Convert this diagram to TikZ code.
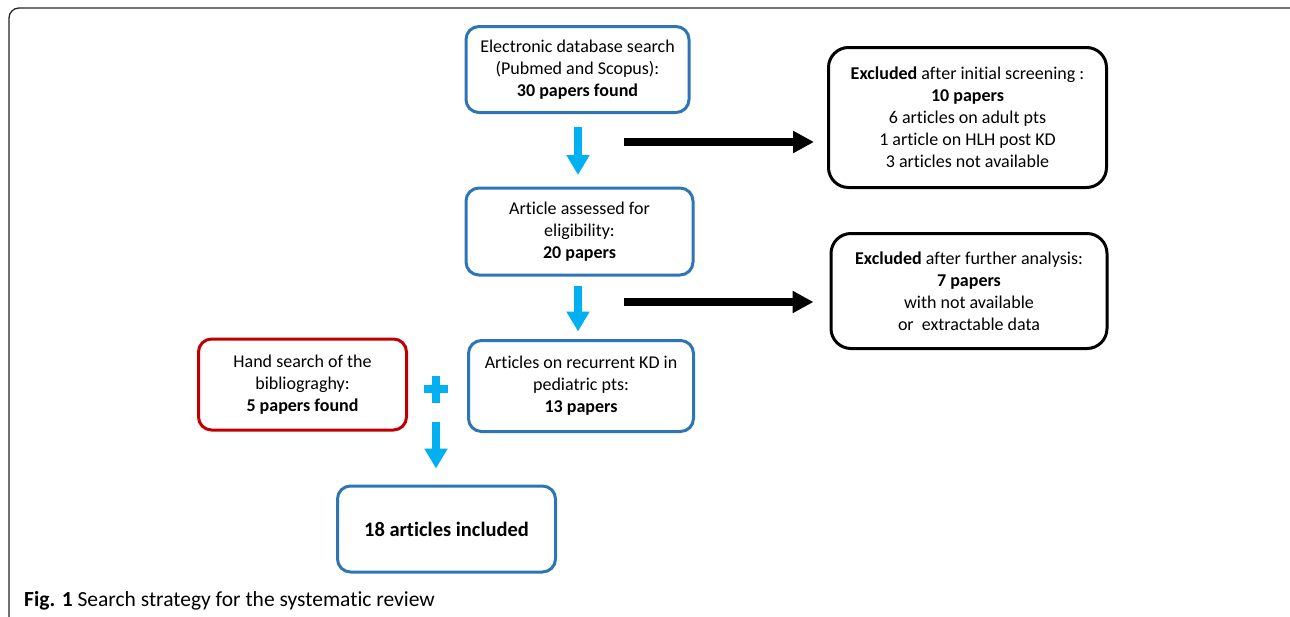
\documentclass[tikz,border=0pt]{standalone}
\usepackage{fontspec}
\setmainfont{Carlito}[Ligatures=NoCommon]
\usetikzlibrary{arrows.meta,calc}
\definecolor{boxblue}{HTML}{2E75B6}
\definecolor{arrowblue}{HTML}{00B0F0}
\definecolor{boxred}{HTML}{C00000}
\tikzset{
  bluebox/.style={draw=boxblue, line width=3pt, rounded corners=13pt, align=center, inner sep=0pt, font=\fontsize{18}{22}\selectfont},
  redbox/.style={bluebox, draw=boxred},
  blackbox/.style={draw=black, line width=3pt, rounded corners=20pt, align=center, inner sep=0pt, font=\fontsize{18}{22}\selectfont},
  bluearrow/.style={draw=arrowblue, line width=8pt, -{Triangle[width=22pt,length=20pt]}},
  blackarrow/.style={draw=black, line width=8pt, -{Triangle[width=21pt,length=21pt]}},
  plusline/.style={draw=arrowblue, line width=8pt},
  frame/.style={draw=black!85, line width=1.3pt, rounded corners=10pt}
}
\begin{document}
\begin{tikzpicture}[x=1pt,y=-1pt]
\useasboundingbox (0,0) rectangle (1290,616);
\clip (0,0) rectangle (1290,616);
\fill[white] (0,0) rectangle (1290,616);
\draw[frame] (9,8) rectangle (1302,628);

% boxes
\node[bluebox, minimum width=223pt, minimum height=86pt] (A) at (577.5,69.5)
  {Electronic database search\\(Pubmed and Scopus):\\\textbf{30 papers found}};
\node[bluebox, minimum width=227pt, minimum height=87pt] (B) at (579.5,231.5)
  {Article assessed for\\eligibility:\\\textbf{20 papers}};
\node[bluebox, minimum width=225pt, minimum height=91pt] (C) at (581,386)
  {Articles on recurrent KD in\\pediatric pts:\\\textbf{13 papers}};
\node[redbox, minimum width=208pt, minimum height=91pt] (D) at (302.5,384.5)
  {Hand search of the\\bibliograghy:\\\textbf{5 papers found}};
\node[bluebox, minimum width=218pt, minimum height=86pt, font=\fontsize{20.5}{22}\selectfont\bfseries] (E) at (446.5,529)
  {18 articles included};
\node[blackbox, minimum width=278pt, minimum height=140pt] (X1) at (967.5,117.5)
  {\textbf{Excluded} after initial screening :\\\textbf{10 papers}\\6 articles on adult pts\\1 article on HLH post KD\\3 articles not available};
\node[blackbox, minimum width=276pt, minimum height=115pt] (X2) at (969,291)
  {\textbf{Excluded} after further analysis:\\\textbf{7 papers}\\with not available\\or\ \ extractable data};

% plus sign
\node[inner sep=0pt, minimum size=0pt] (plus) at (436,389) {};
\draw[plusline] ($(plus.center)+(-12,0)$) -- ($(plus.center)+(12,0)$);
\draw[plusline] ($(plus.center)+(0,-13.5)$) -- ($(plus.center)+(0,13.5)$);

% connectors
\draw[bluearrow] ($(A.south)+(0.5,13)$) -- ($(A.south)+(0.5,61)$);
\draw[bluearrow] ($(B.south)+(-1.5,9)$) -- ($(B.south)+(-1.5,55)$);
\draw[bluearrow] ($(plus.center)+(0,33)$) -- ($(E.north -| plus)+(0,-16)$);

\coordinate (s1) at (624,142);
\coordinate (s2) at (624,302);
\draw[blackarrow] (s1) -- ($(X1.west |- s1)+(-13,0)$);
\draw[blackarrow] (s2) -- ($(X2.west |- s2)+(-16,0)$);

% caption
\node[anchor=base west, inner sep=0pt, font=\fontsize{21.5}{22}\selectfont] (cap) at (24,606)
  {\textbf{Fig. 1} Search strategy for the systematic review};
\end{tikzpicture}
\end{document}
